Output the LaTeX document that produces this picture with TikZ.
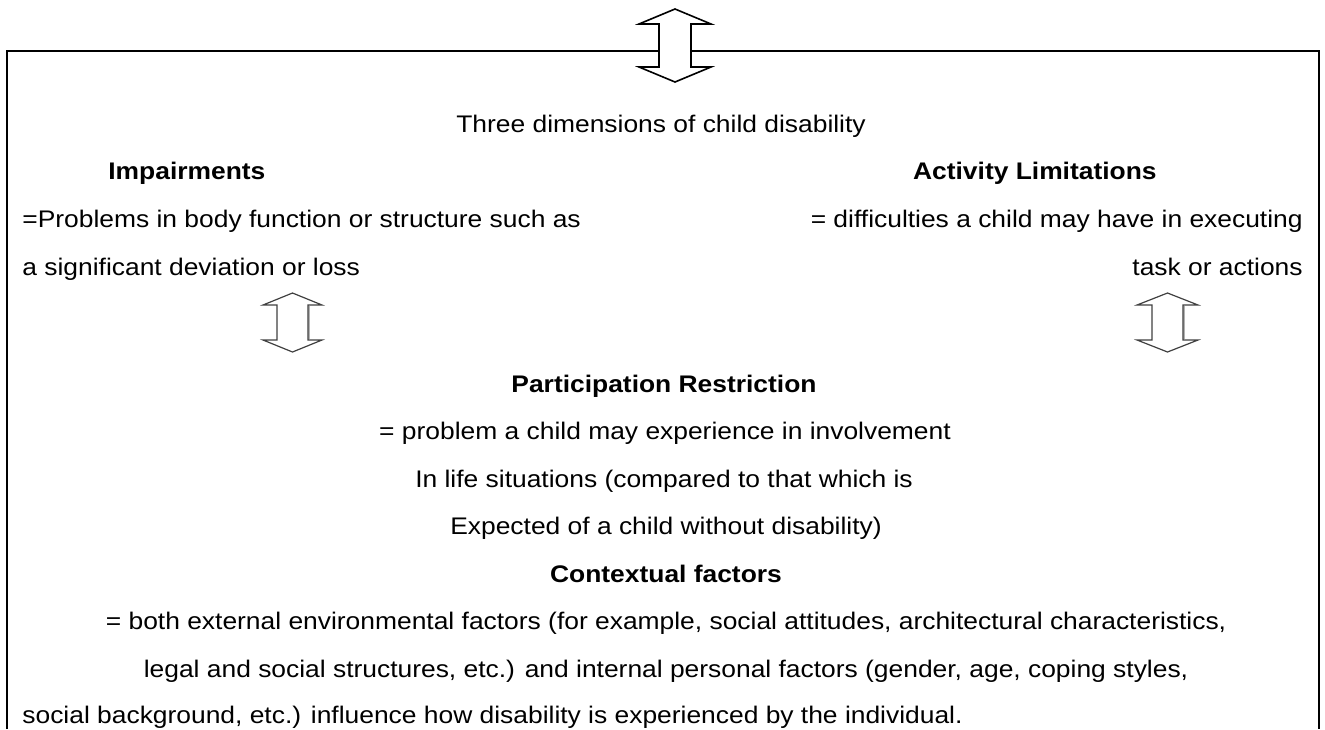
\documentclass[tikz,border=0pt]{standalone}
\usepackage{fontspec}
\setmainfont{Liberation Sans}[FakeStretch=1.1]
\begin{document}
\begin{tikzpicture}[x=0.5pt,y=-0.5pt,
  txt/.style={inner sep=0pt,font=\fontsize{12}{14}\selectfont},
  bold/.style={txt,font=\fontsize{12}{14}\selectfont\bfseries},
  frame/.style={line width=1pt,black},
  bigarrow/.style={line width=0.8pt,black,fill=white,line join=miter},
  smallarrow/.style={line width=0.6pt,black!75,fill=white,line join=miter},
  shade/.style={line width=0.9pt,black!30}]
\useasboundingbox (0,0) rectangle (1325,729);
% frame (open at bottom)
\draw[frame] (7,729) -- (7,51) -- (1319,51) -- (1319,729);
% top double arrow
\draw[bigarrow] (675,9) -- (711,24) -- (691,24) -- (691,67) -- (711,67) -- (675,82)
  -- (639,67) -- (659,67) -- (659,24) -- (639,24) -- cycle;
% left small double arrow
\draw[shade] (309,306) -- (309,339);
\draw[shade] (279,306) -- (279,339);
\draw[smallarrow] (292.5,293) -- (322,305) -- (308,305) -- (308,340) -- (322,340) -- (292.5,352)
  -- (263,340) -- (277,340) -- (277,305) -- (263,305) -- cycle;
% right small double arrow
\draw[shade] (1184,306) -- (1184,339);
\draw[shade] (1154,306) -- (1154,339);
\draw[smallarrow] (1167.5,293) -- (1198,305) -- (1183,305) -- (1183,340) -- (1198,340) -- (1167.5,352)
  -- (1137,340) -- (1152,340) -- (1152,305) -- (1137,305) -- cycle;
% texts
\node[txt,anchor=base] (title) at (661,132) {Three dimensions of child disability};
\node[bold,anchor=base west] (imp) at (108,179) {Impairments};
\node[bold,anchor=base east] (act) at (1157,179) {Activity Limitations};
\node[txt,anchor=base west] (imp1) at (22,227) {=Problems in body function or structure such as};
\node[txt,anchor=base west] (imp2) at (22,275) {a significant deviation or loss};
\node[txt,anchor=base east] (act1) at (1303,227) {= difficulties a child may have in executing};
\node[txt,anchor=base east] (act2) at (1303,275) {task or actions};
\node[bold,anchor=base] (par) at (664,392) {Participation Restriction};
\node[txt,anchor=base] (par1) at (665,439) {= problem a child may experience in involvement};
\node[txt,anchor=base] (par2) at (664,487) {In life situations (compared to that which is};
\node[txt,anchor=base] (par3) at (666,534) {Expected of a child without disability)};
\node[bold,anchor=base] (ctx) at (666,582) {Contextual factors};
\node[txt,anchor=base] (ctx1) at (666,629) {= both external environmental factors (for example, social attitudes, architectural characteristics,};
\node[txt,anchor=base] (ctx2) at (666,677) {legal and social structures, etc.) and internal personal factors (gender, age, coping styles,};
\node[txt,anchor=base west] (ctx3) at (22,723) {social background, etc.) influence how disability is experienced by the individual.};
\end{tikzpicture}
\end{document}
